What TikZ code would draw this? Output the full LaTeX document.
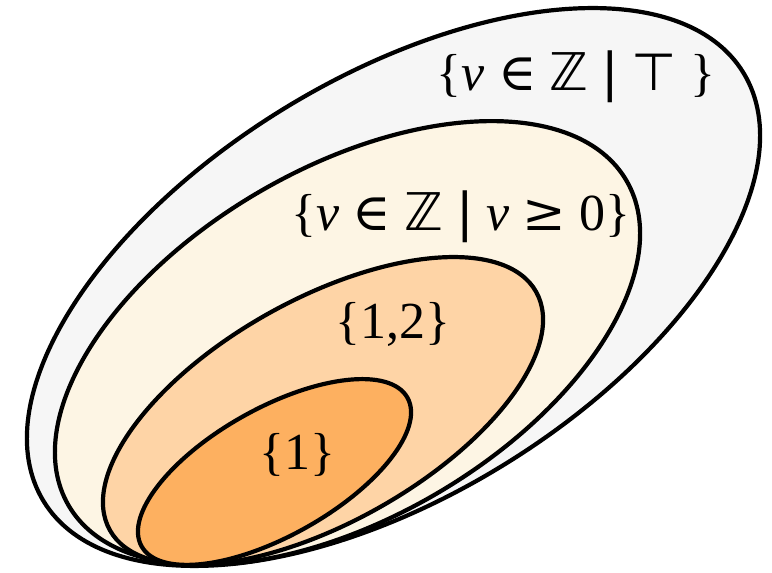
\documentclass[tikz,border=0pt]{standalone}
\usepackage{fontspec}
\setmainfont{Liberation Serif}
\newfontfamily\timesf{Liberation Serif}
\newfontfamily\symserif{DejaVu Serif}
\newfontfamily\symsans{DejaVu Sans}
\definecolor{cgray}{RGB}{246,246,246}
\definecolor{ccream}{RGB}{253,245,228}
\definecolor{cpeach}{RGB}{254,212,166}
\definecolor{corange}{RGB}{253,176,96}
\tikzset{
  setshape/.style={draw=black, line width=4.2pt},
  setlabel/.style={inner sep=0pt, font=\timesf\fontsize{52}{62}\selectfont},
}
\newcommand{\mybar}{{\symsans |}}
\newcommand{\myin}{{\symserif ∈}}
\newcommand{\myZ}{{\symsans ℤ}}
\newcommand{\mytop}{{\symsans ⊤}}
\newcommand{\myge}{{\symserif ≥}}
\begin{document}
\begin{tikzpicture}[x=1pt,y=1pt]
\useasboundingbox (0,0) rectangle (772,573);
\path[setshape, fill=cgray, rotate around={31.5:(393.5,286)}] (393.5,286) ellipse [x radius=410.3, y radius=209.3];
\path[setshape, fill=ccream, rotate around={30.2:(347.5,230)}] (347.5,230) ellipse [x radius=322.8, y radius=175.0];
\path[setshape, fill=cpeach, rotate around={29.2:(323,162)}] (323,162) ellipse [x radius=244.2, y radius=111.7];
\path[setshape, fill=corange, rotate around={29.2:(274.5,101)}] (274.5,101) ellipse [x radius=152.3, y radius=63.9];
\node[setlabel] (all) at (576,496) {\{\textit{v} \myin\ \myZ\ \mybar\ \mytop\ \}};
\node[setlabel] (nonneg) at (461,356) {\{\textit{v} \myin\ \myZ\ \mybar\ \textit{v} \myge\ 0\}};
\node[setlabel] (onetwo) at (393,249) {\{1,2\}};
\node[setlabel] (one) at (297,118) {\{1\}};
\end{tikzpicture}
\end{document}
